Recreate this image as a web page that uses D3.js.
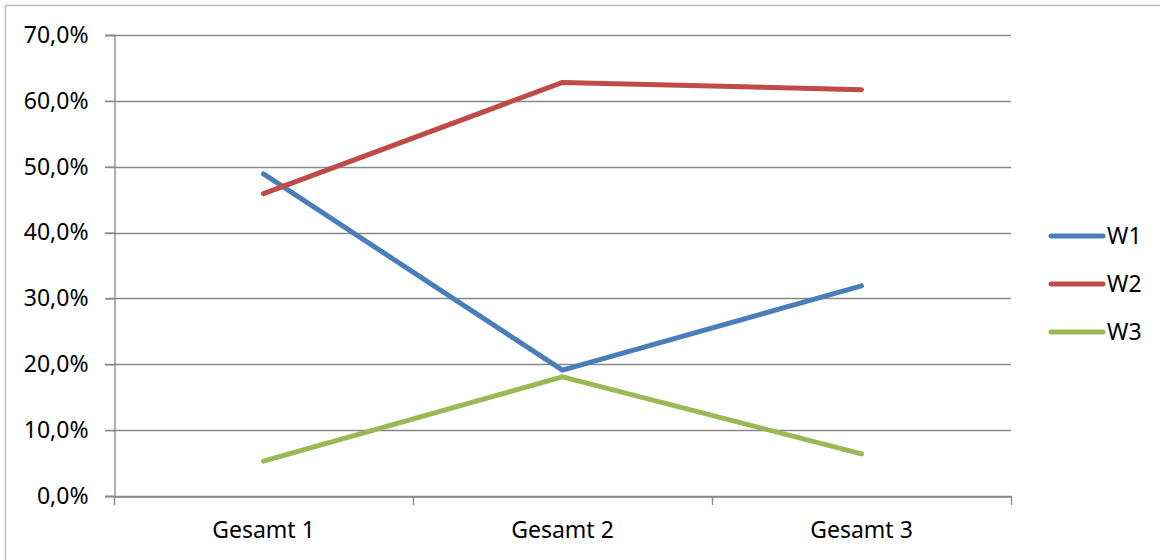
<!DOCTYPE html>
<html><head><meta charset="utf-8">
<script src="https://cdn.jsdelivr.net/npm/d3@7"></script>
<style>html,body{margin:0;padding:0;background:#fff;}svg{display:block;}</style>
</head><body>
<svg id="c" width="1160" height="560"></svg>
<script>
const categories = ["Gesamt 1", "Gesamt 2", "Gesamt 3"];
const seriesNames = ["W1", "W2", "W3"];
const W1 = [0.489, 0.191, 0.319];
const W2 = [0.459, 0.628, 0.617];
const W3 = [0.053, 0.181, 0.064];
const yTicks = [0, 0.1, 0.2, 0.3, 0.4, 0.5, 0.6, 0.7];
const colors = ["#4A7EBB", "#BE4B48", "#98B954"];

const series = [W1, W2, W3];
const svg = d3.select("#c");
const font = "'Noto Sans', 'Open Sans', sans-serif";
const fs = 23;
const pLeft = 114, pRight = 1011, pTop = 35, pBottom = 496;

svg.append("rect").attr("x", 5.5).attr("y", 5.5).attr("width", 1200).attr("height", 600)
  .attr("fill", "none").attr("stroke", "#bdbdbd").attr("stroke-width", 1.5);

const x = d3.scaleBand().domain(categories).range([pLeft, pRight]).padding(0);
const y = d3.scaleLinear().domain([0, 0.7]).range([pBottom, pTop]);
const fmt = v => d3.format(".1f")(v * 100).replace(".", ",") + "%";

// gridlines
svg.append("g").selectAll("line").data(yTicks).join("line")
  .attr("x1", pLeft - 9).attr("x2", pRight)
  .attr("y1", d => Math.round(y(d)) + 0.5).attr("y2", d => Math.round(y(d)) + 0.5)
  .attr("stroke", "#888").attr("stroke-width", 1.3);

// y axis
const ya = svg.append("g").attr("transform", `translate(${pLeft + 0.5},0)`)
  .call(d3.axisLeft(y).tickValues(yTicks).tickFormat(fmt).tickSize(9).tickPadding(17));
ya.select(".domain").attr("stroke", "#888").attr("stroke-width", 1.3);
ya.selectAll(".tick line").attr("stroke", "#888").attr("stroke-width", 1.3);
ya.selectAll("text").attr("font-family", font).attr("font-size", fs).attr("fill", "#000");

// x axis
const xa = svg.append("g").attr("transform", `translate(0,${pBottom + 0.5})`)
  .call(d3.axisBottom(x).tickSize(0).tickPadding(25));
xa.select(".domain").attr("stroke", "#888").attr("stroke-width", 1.3);
xa.selectAll("text").attr("font-family", font).attr("font-size", fs).attr("fill", "#000");
// boundary tick marks
const bounds = [pLeft, ...categories.map(c => x(c) + x.bandwidth())];
svg.append("g").selectAll("line").data(bounds).join("line")
  .attr("x1", d => d + 0.5).attr("x2", d => d + 0.5)
  .attr("y1", pBottom).attr("y2", pBottom + 9)
  .attr("stroke", "#888").attr("stroke-width", 1.3);

// lines
const line = d3.line().x((d, i) => x(categories[i]) + x.bandwidth() / 2).y(d => y(d));
series.forEach((s, i) => {
  svg.append("path").datum(s).attr("d", line)
    .attr("fill", "none").attr("stroke", colors[i]).attr("stroke-width", 5)
    .attr("stroke-linecap", "round").attr("stroke-linejoin", "round");
});

// legend
const lg = svg.append("g");
seriesNames.forEach((n, i) => {
  const yy = 236 + i * 48;
  lg.append("line").attr("x1", 1051).attr("x2", 1103).attr("y1", yy).attr("y2", yy)
    .attr("stroke", colors[i]).attr("stroke-width", 5).attr("stroke-linecap", "round");
  lg.append("text").attr("x", 1107).attr("y", yy).attr("dy", "0.35em")
    .attr("font-family", font).attr("font-size", fs).attr("fill", "#000").text(n);
});
</script>
</body></html>
